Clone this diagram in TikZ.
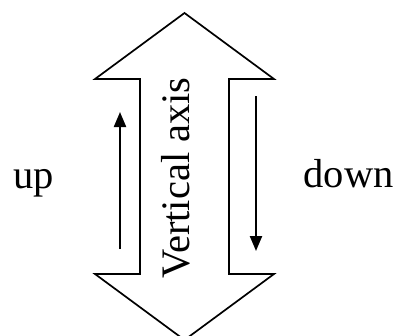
\documentclass[tikz,border=0pt]{standalone}
\usepackage{fontspec}
\setmainfont{Liberation Serif}
\usetikzlibrary{arrows.meta}
\begin{document}
\begin{tikzpicture}[x=1bp,y=-1bp,
  bigarrow/.style={draw=black,line width=1.7bp,line join=miter,fill=white},
  smallarrow/.style={line width=2.2bp,-{Triangle[length=15bp,width=12bp]}},
  lbl/.style={inner sep=0pt,font=\fontsize{40.5bp}{45bp}\selectfont}]
\useasboundingbox (0,0) rectangle (393,336);
\clip (0,0) rectangle (393,336);
\draw[bigarrow] (184.5,13) -- (274,79) -- (229,79) -- (229,274) -- (274,274)
  -- (184.5,340) -- (95,274) -- (140,274) -- (140,79) -- (95,79) -- cycle;
\node[lbl,rotate=90,anchor=base] (axis) at (189.5,178) {Vertical axis};
\coordinate (upS) at (120,249);
\coordinate (upE) at (120,112);
\coordinate (dnS) at (256,96);
\coordinate (dnE) at (256,251);
\draw[smallarrow] (upS) -- (upE);
\draw[smallarrow] (dnS) -- (dnE);
\node[lbl,anchor=base west] (up) at (13.5,188) {up};
\node[lbl,anchor=base west] (down) at (303.5,187) {down};
\end{tikzpicture}
\end{document}
